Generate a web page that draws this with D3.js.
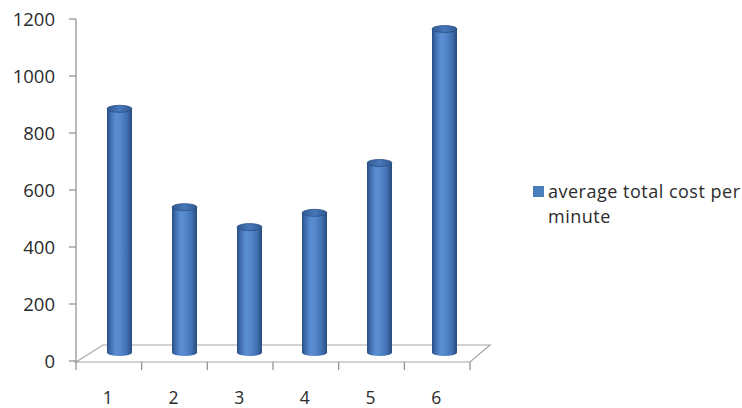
<!DOCTYPE html>
<html>
<head>
<meta charset="utf-8">
<script src="https://cdn.jsdelivr.net/npm/d3@7"></script>
<style>
  html, body { margin: 0; padding: 0; background: #fff; }
  svg { display: block; }
  text { font-family: "Open Sans", "DejaVu Sans", sans-serif; fill: #2b2b2b; }
</style>
</head>
<body>
<svg id="chart" width="742" height="408"></svg>
<script>
// Average total cost per minute for six groups
const categories = ["1", "2", "3", "4", "5", "6"];
const costPerMinute = [855, 510, 440, 490, 665, 1135];
const yTickValues = [0, 200, 400, 600, 800, 1000, 1200];
const seriesName = ["average total cost per", "minute"];

const svg = d3.select("#chart");

// front plane of the 3D plot
const plot = { left: 76, right: 470, top: 19, bottom: 361 };
// floor depth offsets (slight perspective: deeper on the left)
const depthLeft = { dx: 27, dy: -17 };
const depthRight = { dx: 20, dy: -17 };

const x = d3.scaleBand().domain(categories).range([plot.left, plot.right]);
const y = d3.scaleLinear().domain([0, 1200]).range([plot.bottom, plot.top]);

// gradients for the cylinders
const defs = svg.append("defs");
const body = defs.append("linearGradient").attr("id", "cylBody")
  .attr("x1", "0%").attr("x2", "100%").attr("y1", "0%").attr("y2", "0%");
[[0, "#2a4e82"], [0.12, "#3d6aab"], [0.35, "#5b8fd3"], [0.55, "#5486cb"],
 [0.8, "#4070b1"], [1, "#284b7c"]].forEach(([o, c]) =>
  body.append("stop").attr("offset", o).attr("stop-color", c));
const topG = defs.append("linearGradient").attr("id", "cylTop")
  .attr("x1", "0%").attr("x2", "100%").attr("y1", "0%").attr("y2", "0%");
[[0, "#2f5891"], [0.5, "#4878ba"], [1, "#2f5891"]].forEach(([o, c]) =>
  topG.append("stop").attr("offset", o).attr("stop-color", c));

// floor
const fl = plot.left, fr = plot.right, fy = plot.bottom + 1;
svg.append("path")
  .attr("d", `M${fl},${fy} L${fl + depthLeft.dx},${fy + depthLeft.dy} ` +
             `L${fr + depthRight.dx},${fy + depthRight.dy} L${fr},${fy} Z`)
  .attr("fill", "#ffffff")
  .attr("stroke", "#a6a6a6").attr("stroke-width", 1.2);

// y axis
svg.append("line")
  .attr("x1", plot.left).attr("x2", plot.left)
  .attr("y1", plot.top).attr("y2", plot.bottom + 1)
  .attr("stroke", "#8c8c8c").attr("stroke-width", 1.2);
const yAxis = svg.append("g");
yAxis.selectAll("line").data(yTickValues).join("line")
  .attr("x1", plot.left - 7).attr("x2", plot.left)
  .attr("y1", d => y(d)).attr("y2", d => y(d))
  .attr("stroke", "#8c8c8c").attr("stroke-width", 1.2);
yAxis.selectAll("text").data(yTickValues).join("text")
  .attr("x", 55).attr("y", d => y(d) + 6.5)
  .attr("text-anchor", "end")
  .attr("font-size", 18.5)
  .text(d => d);

// x axis ticks at band boundaries on the front edge
const bounds = categories.map(c => x(c)).concat([plot.right]);
svg.append("g").selectAll("line").data(bounds).join("line")
  .attr("x1", d => d).attr("x2", d => d)
  .attr("y1", fy).attr("y2", fy + 8)
  .attr("stroke", "#8c8c8c").attr("stroke-width", 1.2);
svg.append("g").selectAll("text").data(categories).join("text")
  .attr("x", d => x(d) + x.bandwidth() / 2 - 1)
  .attr("y", 404)
  .attr("text-anchor", "middle")
  .attr("font-size", 17.5)
  .text(d => d);

// cylinders sit at mid depth of the floor
const rx = 12.5, ry = 3.5;
const midDy = (depthLeft.dy + depthRight.dy) / 4; // half depth
const shift = d3.scaleLinear().domain([plot.left, plot.right]).range([11, 7]);

const bars = svg.append("g").selectAll("g")
  .data(categories.map((c, i) => ({ c, v: costPerMinute[i] })))
  .join("g");

bars.each(function (d) {
  const g = d3.select(this);
  const xc = x(d.c) + x.bandwidth() / 2;
  const cx = xc + shift(xc);
  const yb = y(0) + midDy;
  const yt = y(d.v) + midDy;
  g.append("path")
    .attr("d", `M${cx - rx},${yt} L${cx - rx},${yb} ` +
               `A${rx},${ry} 0 0 0 ${cx + rx},${yb} L${cx + rx},${yt} Z`)
    .attr("fill", "url(#cylBody)");
  g.append("ellipse")
    .attr("cx", cx).attr("cy", yt).attr("rx", rx).attr("ry", ry)
    .attr("fill", "url(#cylTop)")
    .attr("stroke", "#2a4f86").attr("stroke-width", 0.8);
});

// legend
const legend = svg.append("g");
legend.append("rect")
  .attr("x", 533).attr("y", 186).attr("width", 11).attr("height", 11)
  .attr("fill", "#4a7ebb");
legend.selectAll("text").data(seriesName).join("text")
  .attr("x", 548).attr("y", (d, i) => 198 + i * 25)
  .attr("font-size", 18)
  .attr("letter-spacing", 0.5)
  .text(d => d);
</script>
</body>
</html>
